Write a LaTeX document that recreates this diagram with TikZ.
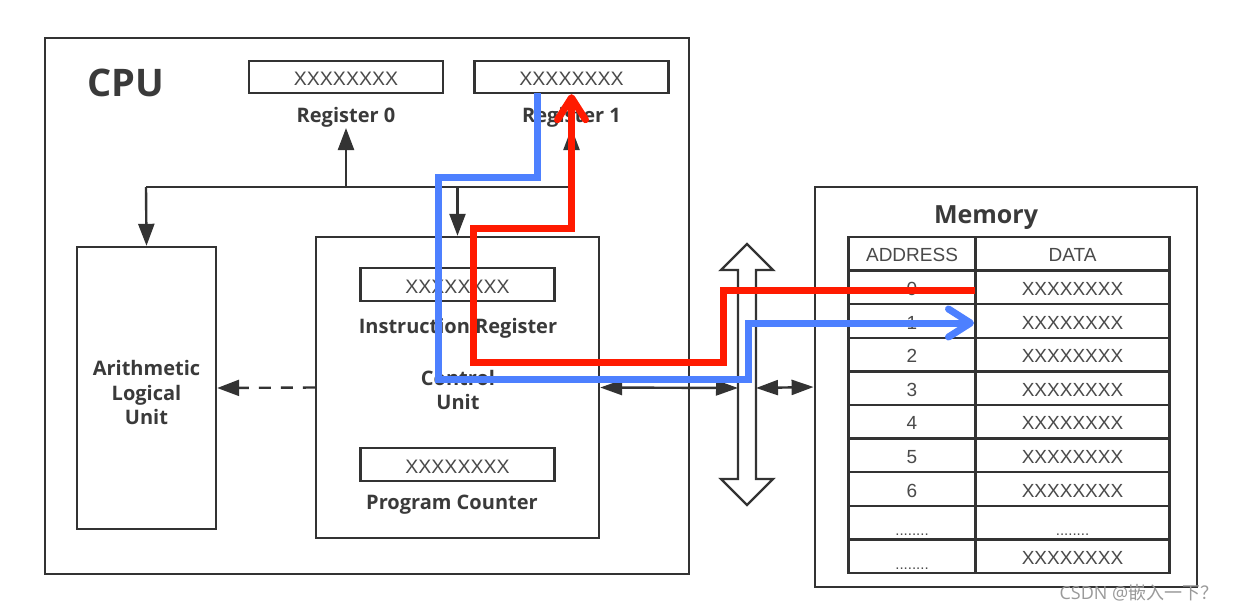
\documentclass[tikz,border=0pt]{standalone}
\usepackage{fontspec}
\setmainfont{Open Sans}
\newfontfamily\regfont{Liberation Sans}
\newfontfamily\cjk{Noto Sans CJK SC}
\usetikzlibrary{arrows.meta}
\definecolor{ink}{HTML}{333333}
\definecolor{txt}{HTML}{4A4A4A}
\definecolor{lbl}{HTML}{3A3A3A}
\definecolor{redp}{HTML}{FF1A00}
\definecolor{bluep}{HTML}{4D80FF}
\definecolor{wm}{HTML}{9A9A9A}
\newcommand{\dotrow}{\raisebox{-5pt}{\fontsize{15}{18}\selectfont ........}}
\newcommand{\lowtxt}[2]{\raisebox{#1}[0pt][0pt]{#2}}
\begin{document}
\begin{tikzpicture}[x=1pt,y=-1pt,
  bigbox/.style={draw=ink,line width=2.8pt,inner sep=0pt},
  regbox/.style={draw=ink,line width=2.4pt,minimum width=194pt,minimum height=32pt,inner sep=0pt,
    font=\regfont\fontsize{19.5}{22}\selectfont,text=txt},
  lab/.style={font=\bfseries\fontsize{20}{24.5}\selectfont,text=lbl,inner sep=0pt,align=center},
  cell/.style={draw=ink,line width=2.4pt,inner sep=0pt,minimum height=33.6pt,
    font=\regfont\fontsize{19}{22}\selectfont,text=txt},
  conn/.style={draw=ink,line width=2.4pt},
  tip/.style={-{Triangle[length=22pt,width=16pt]}},
  dtip/.style={{Triangle[length=22pt,width=15pt]}-{Triangle[length=22pt,width=15pt]}},
  colpath/.style={line width=7pt,line join=miter},
  barb/.style={-{Straight Barb[length=22pt,width=28pt,line cap=round,line join=round]}}
]
\fill[white] (0,0) rectangle (1237,613);
\useasboundingbox (0,0) rectangle (1237,613);

% CPU
\node[bigbox,minimum width=644pt,minimum height=536pt] (cpu) at (367,306) {};
\node[font=\bfseries\fontsize{38}{40}\selectfont,text=lbl,inner sep=0pt] (cpul) at (126,83) {CPU};

% registers
\node[regbox] (reg0) at (346,77) {\lowtxt{-8.5pt}{XXXXXXXX}};
\node[regbox] (reg1) at (571.5,77) {\lowtxt{-8.5pt}{XXXXXXXX}};
\node[lab] (reg0l) at (346,117) {Register 0};
\node[lab] (reg1l) at (571.5,117) {Register 1};

% ALU
\node[bigbox,line width=2.4pt,minimum width=139pt,minimum height=282pt] (alu) at (146.5,388) {};
\node[lab] (alul) at (146.5,392.5) {Arithmetic\\Logical\\Unit};

% Control unit
\node[bigbox,line width=2.4pt,minimum width=283pt,minimum height=301pt] (cu) at (457.5,387.5) {};
\node[regbox,minimum height=33pt] (ir) at (457.5,284.5) {\lowtxt{-8.5pt}{XXXXXXXX}};
\node[lab] (irl) at (458,328) {Instruction Register};
\node[lab] (cul) at (458,390) {Control\\Unit};
\node[regbox,minimum height=33pt] (pc) at (457.5,464.5) {\lowtxt{-8.5pt}{XXXXXXXX}};
\node[lab] (pcl) at (452,505) {Program Counter};

% Memory
\node[bigbox,minimum width=382pt,minimum height=400pt] (mem) at (1006,387) {};
\node[font=\bfseries\fontsize{25}{28}\selectfont,text=lbl,inner sep=0pt] (meml) at (986,218) {Memory};
\foreach \i/\a/\d in {0/ADDRESS/DATA,1/0/XXXXXXXX,2/1/XXXXXXXX,3/2/XXXXXXXX,4/3/XXXXXXXX,
    5/4/XXXXXXXX,6/5/XXXXXXXX,7/6/XXXXXXXX,8/\dotrow/\dotrow,9/\dotrow/XXXXXXXX}{
  \node[cell,minimum width=127pt] (a\i) at (912,253.8+33.6*\i) {\lowtxt{-8pt}{\a}};
  \node[cell,minimum width=194pt] (d\i) at (1072.5,253.8+33.6*\i) {\lowtxt{-8pt}{\d}};
}

% register bus
\coordinate (jL) at (146,187);
\coordinate (jR) at (571.5,187);
\draw[conn] (jL) -- (jR);
\draw[conn,tip] (jL) -- (alu.north);
\draw[conn,tip] (reg0l.south |- jL) -- ++(0,-59);
\draw[conn,tip] (jR) -- ++(0,-59);
\draw[conn,tip] (cu.north |- jL) -- (cu.north);

% CU to ALU
\draw[conn,tip,dash pattern=on 12pt off 10pt] (cu.west) -- (alu.east);

% system bus
\coordinate (busL) at (738,388);
\coordinate (busR) at (756,388);
\draw[ink,line width=2.4pt,fill=white,line join=miter]
  (738,270) -- (721,270) -- (747,244) -- (773,270) -- (756,270) -- (756,479) -- (773,479)
  -- (747,505) -- (721,479) -- (738,479) -- cycle;
\draw[conn,dtip] (cu.east) -- (busL);
\draw[conn,dtip] (busR) -- (mem.west);

% red path: memory address 0 -> register 1
\coordinate (rs) at (975,290);
\draw[redp,colpath,barb] (rs) -| (723,362) -| (473,228) -| (reg1.south);

% blue path: register 1 -> memory address 1
\coordinate (bs) at (537,93);
\coordinate (be) at (974,323);
\draw[bluep,colpath,barb] (bs) |- (438,177) |- (748,379) |- (be);

% watermark
\node[font=\fontsize{18}{20}\selectfont,text=wm,inner sep=0pt] (wmark) at (1139,593) {CSDN @{\cjk 嵌入一下？}};
\end{tikzpicture}
\end{document}
